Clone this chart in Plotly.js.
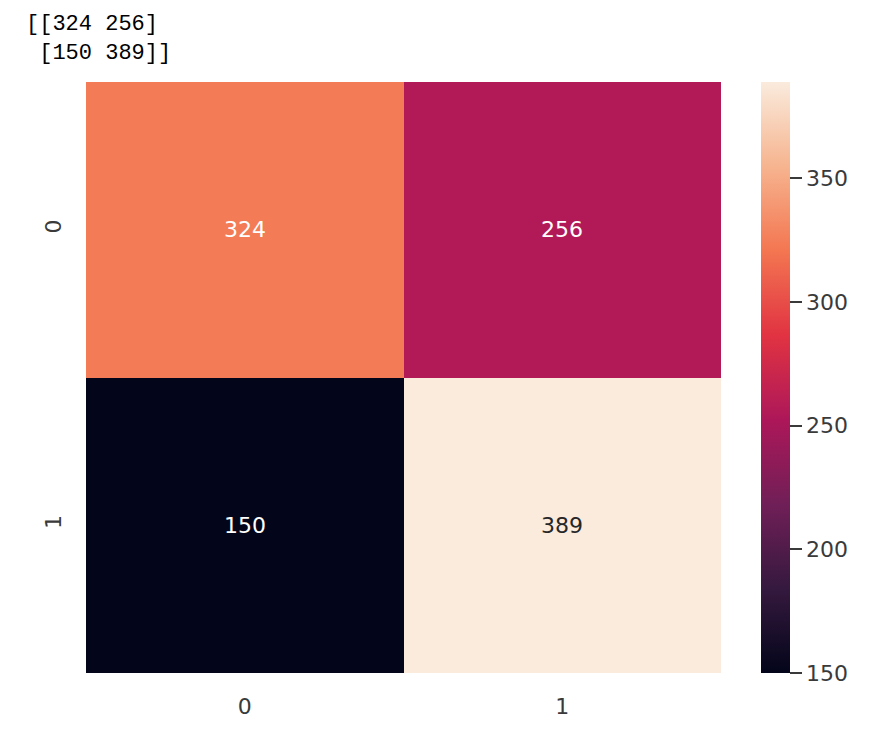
<!DOCTYPE html>
<html>
<head>
<meta charset="utf-8">
<script src="https://cdn.plot.ly/plotly-3.0.1.min.js"></script>
<style>html,body{margin:0;padding:0;background:#fff;}#chart{width:878px;height:742px;}</style>
</head>
<body>
<div id="chart"></div>
<script>
// Data
const xLabels = ['0', '1'];
const yLabels = ['0', '1'];
const zValues = [[324, 256], [150, 389]];
const printedMatrix = '[[324 256]<br>&nbsp;[150 389]]';
const cbTicks = [150, 200, 250, 300, 350];

// seaborn "rocket" colormap approximation
const rocket = [
  [0.0, '#03051a'],
  [1/7, '#35193e'],
  [2/7, '#701f57'],
  [3/7, '#ad1759'],
  [4/7, '#e13342'],
  [5/7, '#f37651'],
  [6/7, '#f6b48f'],
  [1.0, '#faebdd']
];

const flat = zValues.flat();
const zmin = Math.min(...flat), zmax = Math.max(...flat);

function hexToRgb(h){return [parseInt(h.slice(1,3),16),parseInt(h.slice(3,5),16),parseInt(h.slice(5,7),16)];}
function colorAt(v){
  const t = (v - zmin) / (zmax - zmin);
  for (let i = 0; i < rocket.length - 1; i++) {
    const [a, ca] = rocket[i], [b, cb] = rocket[i+1];
    if (t >= a && t <= b) {
      const f = (t - a) / (b - a || 1);
      const A = hexToRgb(ca), B = hexToRgb(cb);
      return A.map((c, k) => c + (B[k] - c) * f);
    }
  }
  return hexToRgb(rocket[rocket.length-1][1]);
}
function lum(rgb){
  const c = rgb.map(v => { v/=255; return v <= 0.03928 ? v/12.92 : Math.pow((v+0.055)/1.055, 2.4); });
  return 0.2126*c[0] + 0.7152*c[1] + 0.0722*c[2];
}

const annotations = [];
for (let r = 0; r < yLabels.length; r++) {
  for (let c = 0; c < xLabels.length; c++) {
    const v = zValues[r][c];
    annotations.push({
      x: xLabels[c], y: yLabels[r], xref: 'x', yref: 'y',
      text: String(v), showarrow: false,
      font: {family: 'DejaVu Sans', size: 22, color: lum(colorAt(v)) > 0.408 ? '#262626' : '#ffffff'}
    });
  }
}
annotations.push({
  xref: 'paper', yref: 'paper', x: -0.097, y: 1.122,
  xanchor: 'left', yanchor: 'top', align: 'left', showarrow: false,
  text: printedMatrix,
  font: {family: 'Liberation Mono, Courier New, monospace', size: 22, color: '#000'}
});

const trace = {
  type: 'heatmap',
  x: xLabels, y: yLabels, z: zValues,
  zmin: zmin, zmax: zmax,
  colorscale: rocket,
  xgap: 0, ygap: 0,
  hoverinfo: 'none',
  colorbar: {
    x: 1.063, xanchor: 'left', xpad: 0,
    y: 0, yanchor: 'bottom', len: 1, ypad: 0,
    thickness: 29, outlinewidth: 0,
    tickvals: cbTicks, ticks: 'outside', ticklen: 12, tickwidth: 2, tickcolor: '#3a3a3a',
    tickprefix: '\u00a0',
    tickfont: {family: 'DejaVu Sans', size: 22, color: '#3a3a3a'}
  }
};

const layout = {
  width: 878, height: 742,
  margin: {l: 86, r: 157, t: 82, b: 69},
  paper_bgcolor: '#fff', plot_bgcolor: '#fff',
  xaxis: {type: 'category', showgrid: false, zeroline: false, ticks: '', showline: false,
          ticklabelstandoff: 18, tickfont: {family: 'DejaVu Sans', size: 22, color: '#3a3a3a'}},
  yaxis: {type: 'category', autorange: 'reversed', showgrid: false, zeroline: false, ticks: '', showline: false,
          tickangle: -90, ticklabelstandoff: 20, tickfont: {family: 'DejaVu Sans', size: 22, color: '#3a3a3a'}},
  annotations: annotations,
  showlegend: false
};

Plotly.newPlot('chart', [trace], layout, {displayModeBar: false, staticPlot: true});
</script>
</body>
</html>
